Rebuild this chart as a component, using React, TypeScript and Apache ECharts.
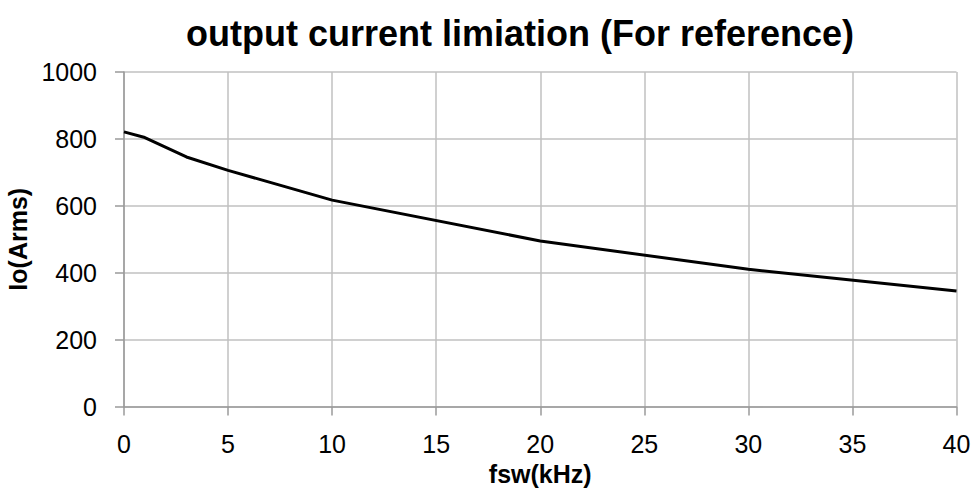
import React, { useEffect, useRef } from "react";
import * as echarts from "echarts";

const titleText = "output current limiation (For reference)";
const xName = "fsw(kHz)";
const yName = "Io(Arms)";
const fswKHz = [0, 1, 3, 5, 10, 20, 30, 40];
const ioArms = [821, 804, 746, 706, 617, 495, 410, 345];

const FONT = "'Liberation Sans', Arial, sans-serif";

export default function App() {
  const ref = useRef<HTMLDivElement>(null);
  useEffect(() => {
    if (!ref.current) return;
    const chart = echarts.init(ref.current, undefined, { renderer: "svg" });
    chart.setOption({
      animation: false,
      backgroundColor: "#ffffff",
      title: {
        text: titleText,
        left: 515,
        top: 10,
        textAlign: "center",
        textStyle: { fontFamily: FONT, fontWeight: "bold", fontSize: 36, color: "#000" },
      },
      grid: {
        left: 124,
        right: 17.5,
        top: 72,
        bottom: 81.5,
        containLabel: false,
        outerBoundsMode: "none",
      },
      xAxis: {
        type: "value",
        min: 0,
        max: 40,
        interval: 5,
        name: xName,
        nameLocation: "middle",
        nameGap: 50,
        nameTextStyle: { fontFamily: FONT, fontWeight: "bold", fontSize: 25, color: "#000" },
        axisLine: { show: true, lineStyle: { color: "#9a9a9a", width: 1.5 } },
        axisTick: { show: true, length: 9, lineStyle: { color: "#9a9a9a", width: 1.5 } },
        axisLabel: { margin: 25, fontFamily: FONT, fontSize: 25, color: "#000" },
        splitLine: { show: true, lineStyle: { color: "#c0c0c0", width: 1.5 } },
      },
      yAxis: {
        type: "value",
        min: 0,
        max: 1000,
        interval: 200,
        name: yName,
        nameLocation: "middle",
        nameGap: 78,
        nameTextStyle: { fontFamily: FONT, fontWeight: "bold", fontSize: 25, color: "#000" },
        axisLine: { show: true, lineStyle: { color: "#9a9a9a", width: 1.5 } },
        axisTick: { show: true, length: 9, lineStyle: { color: "#9a9a9a", width: 1.5 } },
        axisLabel: {
          margin: 27,
          fontFamily: FONT,
          fontSize: 25,
          color: "#000",
          formatter: (v: number) => String(v),
        },
        splitLine: { show: true, lineStyle: { color: "#c0c0c0", width: 1.5 } },
      },
      series: [
        {
          type: "line",
          data: fswKHz.map((x, i) => [x, ioArms[i]]),
          showSymbol: false,
          symbol: "none",
          lineStyle: { color: "#000", width: 3 },
          z: 5,
        },
      ],
    });
    return () => chart.dispose();
  }, []);
  return (
    <div
      ref={ref}
      style={{ position: "fixed", left: 0, top: 0, width: 974, height: 488 }}
    />
  );
}
